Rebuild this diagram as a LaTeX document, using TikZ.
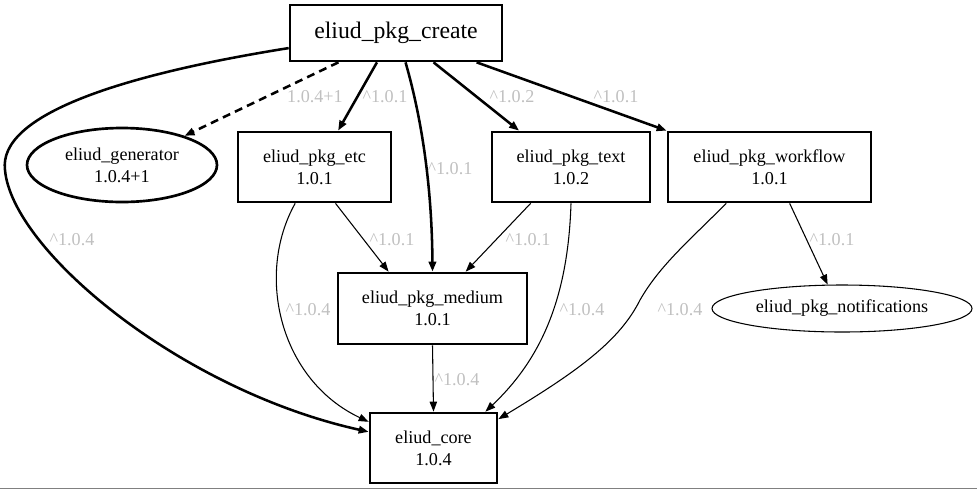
\documentclass[tikz,border=0pt]{standalone}
\usepackage{fontspec}
\setmainfont{Liberation Serif}
\usetikzlibrary{arrows.meta,shapes.geometric}
\definecolor{lblgrey}{RGB}{192,192,192}

\begin{document}
\begin{tikzpicture}[x=0.75pt,y=-0.75pt,
                    pkg/.style={draw,line width=2pt,align=center,inner sep=0pt,font=\fontsize{13.6}{16.5}\selectfont},
                    pkgell/.style={pkg,ellipse},
                    dep/.style={line width=0.8pt,-{Triangle[length=7.5pt,width=5.5pt]}},
                    depthick/.style={dep,line width=1.9pt},
                    vlabel/.style={text=lblgrey,inner sep=0pt,font=\fontsize{13.6}{16.5}\selectfont}]
                    \useasboundingbox (0,0) rectangle (977,490);
                    % packages
                    \node[pkg,minimum width=159pt,minimum height=42pt,font=\fontsize{17.8}{21}\selectfont] (create) at (396,33) {eliud\_pkg\_create};
                    \node[pkgell,minimum width=142.5pt,minimum height=55.5pt] (generator) at (122,165) {eliud\_generator\\1.0.4+1};
                    \node[pkg,minimum width=114.75pt,minimum height=52.5pt] (etc) at (314.5,167) {eliud\_pkg\_etc\\1.0.1};
                    \node[pkg,minimum width=118.5pt,minimum height=52.5pt] (text) at (571,167) {eliud\_pkg\_text\\1.0.2};
                    \node[pkg,minimum width=152.25pt,minimum height=52.5pt] (workflow) at (769.5,167) {eliud\_pkg\_workflow\\1.0.1};
                    \node[pkg,minimum width=141.75pt,minimum height=53.25pt] (medium) at (432.5,308.5) {eliud\_pkg\_medium\\1.0.1};
                    \node[pkgell,line width=0.8pt,minimum width=195pt,minimum height=35.25pt] (notifications) at (842,308.5) {eliud\_pkg\_notifications};
                    \node[pkg,minimum width=95.25pt,minimum height=52.5pt] (core) at (433.5,448) {eliud\_core\\1.0.4};
                    % dependencies of eliud_pkg_create
                    \draw[depthick,dash pattern=on 6pt off 4pt] (create.207) -- (generator.25) node[vlabel] (l1) at (315,97) {1.0.4+1};
                    \draw[depthick] (create.237) -- (etc.57) node[vlabel] (l2) at (385,97) {\textasciicircum1.0.1};
                    \draw[depthick] (create.288) .. controls (425,130) and (432,200) .. (medium.north) node[vlabel] (l3) at (450,169) {\textasciicircum1.0.1};
                    \draw[depthick] (create.322) -- (text.145) node[vlabel] (l4) at (512,97) {\textasciicircum1.0.2};
                    \draw[depthick] (create.340) -- (workflow.north west) node[vlabel] (l5) at (616,97) {\textasciicircum1.0.1};
                    \draw[depthick] (create.188) .. controls (120,75) and (-2,115) .. (5,170) .. controls (12,250) and (180,390) .. (core.166) node[vlabel] (l6) at (72,240) {\textasciicircum1.0.4};
                    % the rest
                    \draw[dep] (etc.300) -- (medium.140) node[vlabel] (l7) at (392,240) {\textasciicircum1.0.1};
                    \draw[dep] (etc.242) .. controls (255,275) and (280,380) .. (core.158) node[vlabel] (l8) at (308,310) {\textasciicircum1.0.4};
                    \draw[dep] (text.222) -- (medium.48) node[vlabel] (l9) at (528,240) {\textasciicircum1.0.1};
                    \draw[dep] (text.south) .. controls (568,300) and (540,360) .. (core.35) node[vlabel] (l10) at (582,310) {\textasciicircum1.0.4};
                    \draw[dep] (workflow.299) -- (notifications.121) node[vlabel] (l11) at (832,240) {\textasciicircum1.0.1};
                    \draw[dep] (workflow.220) .. controls (690,240) and (660,265) .. (640,300) .. controls (620,340) and (580,370) .. (core.24) node[vlabel] (l12) at (680,310) {\textasciicircum1.0.4};
                    \draw[dep] (medium.south) -- (core.north) node[vlabel] (l13) at (457,380) {\textasciicircum1.0.4};
                    \draw[gray,line width=0.75pt] (0,488.5) -- (977,488.5);
                \end{tikzpicture}
\end{document}
